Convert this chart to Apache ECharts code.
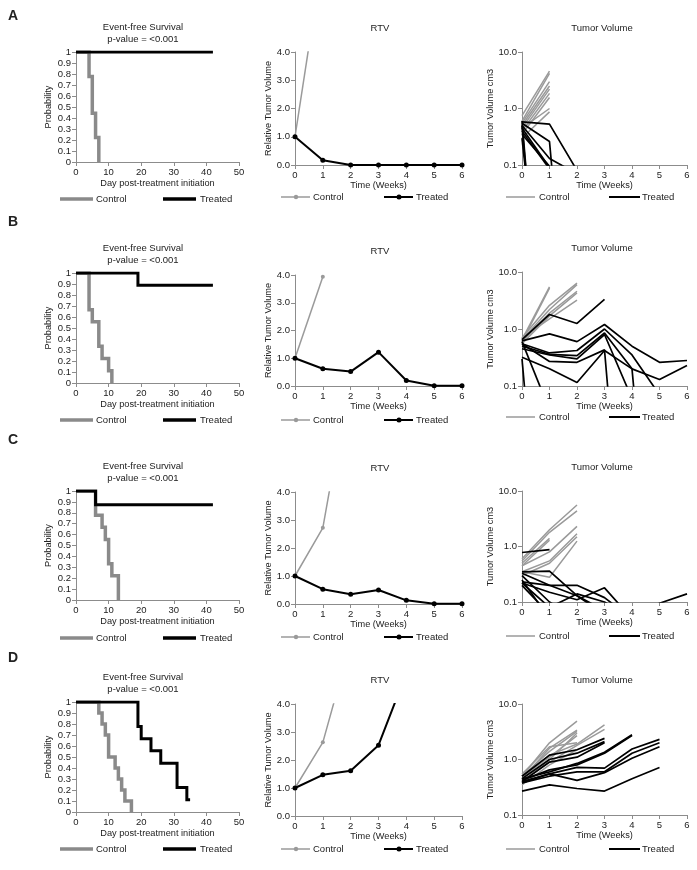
<!DOCTYPE html>
<html><head><meta charset="utf-8">
<script src="https://cdn.jsdelivr.net/npm/echarts@6/dist/echarts.min.js"></script>
<style>html,body{margin:0;padding:0;background:#fff}#c{width:697px;height:870px}</style>
</head><body><div id="c"></div>
<script>
// ---------- DATA ----------
const panelLetters = ['A', 'B', 'C', 'D'];
const kmTitle = 'Event-free Survival';
const kmSubtitle = 'p-value = <0.001';
const rtvTitle = 'RTV';
const tvTitle = 'Tumor Volume';
const seriesNames = ['Control', 'Treated'];

// Kaplan-Meier (event-free survival) step points
const kmCtrlDays = [[0,4,5,6,7],[0,4,5,7,8,10,11],[0,6,8,9,10,11,13],[0,7,8,9,10,12,13,14,15,17]];
const kmCtrlProb = [[1,0.778,0.444,0.222,0],[1,0.667,0.556,0.333,0.222,0.111,0],[1,0.778,0.667,0.556,0.333,0.222,0],[1,0.9,0.8,0.7,0.5,0.4,0.3,0.2,0.1,0]];
const kmTrtDays  = [[0,42],[0,19,42],[0,6,42],[0,19,20,23,26,31,34,35]];
const kmTrtProb  = [[1,1],[1,0.889,0.889],[1,0.875,0.875],[1,0.778,0.667,0.556,0.444,0.222,0.111,0.111]];

// Relative tumor volume (index = week)
const rtvCtrl = [[1.0,7.4],[1.0,3.94],[1.0,2.72,8.3],[1.0,2.63,6.2]];
const rtvTrt  = [[1.0,0.17,0,0,0,0,0],[1.0,0.62,0.52,1.22,0.2,0.01,0.01],[1.0,0.53,0.35,0.5,0.13,0.01,0.01],[1.0,1.47,1.62,2.53,5.1]];

// Individual tumor volumes cm3 (index = week)
const tvCtrlA = [[0.75,4.6],[0.6,4.2],[0.55,3.0],[0.5,2.5],[0.45,2.2],[0.4,1.85],[0.35,1.57],[0.45,1.0],[0.3,0.87]];
const tvTrtA  = [[0.58,0.53,0.08],[0.55,0.26,1e-6],[0.5,0.13,0.07],[0.45,0.09],[0.4,0.085],[0.35,0.095],[0.6,1e-6],[0.5,1e-6],[0.3,1e-5]];
const tvCtrlB = [[0.65,5.5],[0.6,5.2],[0.7,2.6,6.4],[0.65,2.2,6.0],[0.6,1.9,4.6],[0.55,1.7,4.3],[0.7,1.5,3.2]];
const tvTrtB  = [[0.65,1.8,1.25,3.3],[0.62,0.82,0.6,1.2,0.5,0.26,0.28],[0.55,0.38,0.42,1.0,0.35,0.07],[0.5,0.36,0.34,0.85,0.2,1e-6],[0.45,0.35,0.3,0.8,0.06],[0.55,0.27,0.26,0.43,1e-6],[0.32,0.2,0.115,0.42,0.2,0.13,0.23],[0.3,1e-6],[0.6,0.038]];
const tvCtrlC = [[0.6,2.0,5.6],[0.55,1.8,4.4],[0.45,0.8,2.3],[0.35,0.55,1.7],[0.3,0.5,1.5],[0.35,0.28,1.25],[0.5,1.4],[0.45,1.3]];
const tvTrtC  = [[0.78,0.88],[0.35,0.36,0.13,0.06],[0.33,0.2,0.13,0.07],[0.23,0.2,0.2,0.12,0.05],[0.22,0.15,0.11,0.18,0.05],[0.22,0.08,0.14,0.1,0.05],[0.2,0.06],[0.25,0.05,0.05,0.05,0.05,0.095,0.14],[0.3,0.1,0.05]];
const tvCtrlD = [[0.5,2.0,4.9],[0.45,1.6,3.4],[0.5,1.4,3.2],[0.4,1.0,3.0],[0.45,1.2,1.9,4.2],[0.4,0.9,1.8,3.5],[0.35,0.8,1.5],[0.55,1.7,2.0],[0.5,1.1,2.7]];
const tvTrtD  = [[0.5,1.2,1.5,2.4],[0.45,1.0,1.3,2.1],[0.4,0.9,1.1,2.0],[0.45,0.6,0.85,1.35,2.8],[0.42,0.65,0.8,1.3,2.7],[0.4,0.55,0.72,0.7,1.55,2.3],[0.38,0.5,0.6,0.6,1.3,2.0],[0.38,0.55,0.42,0.58,1.05,1.7],[0.27,0.35,0.3,0.27,0.45,0.72]];
const tvCtrl = [tvCtrlA, tvCtrlB, tvCtrlC, tvCtrlD];
const tvTrt  = [tvTrtA, tvTrtB, tvTrtC, tvTrtD];

// ---------- LAYOUT / STYLE ----------
const FONT = '"Liberation Sans", Arial, Helvetica, sans-serif';
const TXT = '#222';
const AX = '#8c8c8c';
const GRAY_KM = '#8a8a8a', GRAY = '#9a9a9a', BLACK = '#000';
const kmTop = [52,273,491,702], kmH = [110,110,109,110];
const rtvTop = [52,275,492,704], rtvH = [113,111,112,112];
const tvTop = [52,272,491,704], tvH = [113,114,111,111];
const letterY = [16,222,440,658];

const grids = [], xAxes = [], yAxes = [], series = [], graphics = [];

function axisX(gi, min, max, interval, name, gap) {
  return {type:'value', gridIndex:gi, min, max, interval, name, nameLocation:'middle', nameGap:gap,
    nameTextStyle:{fontSize:9.2, color:TXT, fontFamily:FONT},
    axisLine:{show:true, onZero:false, lineStyle:{color:AX, width:1}},
    axisTick:{show:true, length:4, lineStyle:{color:AX}},
    axisLabel:{fontSize:9.5, color:TXT, fontFamily:FONT, margin:5},
    splitLine:{show:false}};
}
function axisY(gi, type, min, max, interval, name, gap, fmt) {
  const a = {type, gridIndex:gi, min, max, name, nameLocation:'middle', nameGap:gap,
    nameTextStyle:{fontSize:9.2, color:TXT, fontFamily:FONT},
    axisLine:{show:true, onZero:false, lineStyle:{color:AX, width:1}},
    axisTick:{show:true, length:4, lineStyle:{color:AX}},
    axisLabel:{fontSize:9.5, color:TXT, fontFamily:FONT, margin:5, formatter:fmt},
    splitLine:{show:false}};
  if (type === 'log') a.logBase = 10; else a.interval = interval;
  return a;
}
function pairs(xs, ys) { return xs.map((x, i) => [x, ys[i]]); }
function byWeek(vals) { return vals.map((v, i) => [i, v]); }
function txt(x, y, text, opts) {
  opts = opts || {};
  const align = opts.align || 'center';
  return {type:'text', x, y, silent:true, z:100, style:{text, fill:TXT,
    font:(opts.weight || 'normal') + ' ' + (opts.size || 9.5) + 'px ' + FONT,
    align, textAlign:align, verticalAlign:'middle', textVerticalAlign:'middle'}};
}
function seg(x1, x2, y, color, w) {
  return {type:'line', silent:true, z:100, shape:{x1, y1:y, x2, y2:y}, style:{stroke:color, lineWidth:w}};
}
function dot(x, y, color, r) {
  return {type:'circle', silent:true, z:101, shape:{cx:x, cy:y, r}, style:{fill:color}};
}

for (let r = 0; r < 4; r++) {
  graphics.push(txt(8, letterY[r], panelLetters[r], {align:'left', weight:'bold', size:14}));

  // --- KM panel ---
  let gi = grids.length;
  grids.push({left:76, top:kmTop[r], width:163, height:kmH[r], outerBoundsMode:'none'});
  xAxes.push(axisX(gi, 0, 50, 10, 'Day post-treatment initiation', 17));
  yAxes.push(axisY(gi, 'value', 0, 1, 0.1, 'Probability', 23, v => String(+(+v).toFixed(1))));
  series.push({type:'line', name:seriesNames[0], xAxisIndex:gi, yAxisIndex:gi, step:'end', showSymbol:false,
    data:pairs(kmCtrlDays[r], kmCtrlProb[r]), lineStyle:{color:GRAY_KM, width:3.5, join:'miter'}, z:2});
  series.push({type:'line', name:seriesNames[1], xAxisIndex:gi, yAxisIndex:gi, step:'end', showSymbol:false,
    data:pairs(kmTrtDays[r], kmTrtProb[r]), lineStyle:{color:BLACK, width:3, join:'miter'}, z:3});
  graphics.push(txt(143, kmTop[r] - 25, kmTitle));
  graphics.push(txt(143, kmTop[r] - 13, kmSubtitle));
  const ky = kmTop[r] + 147;
  graphics.push(seg(60, 93, ky, GRAY_KM, 3.5), txt(96, ky, seriesNames[0], {align:'left'}));
  graphics.push(seg(163, 196, ky, BLACK, 3.5), txt(200, ky, seriesNames[1], {align:'left'}));

  // --- RTV panel ---
  gi = grids.length;
  grids.push({left:295, top:rtvTop[r], width:167, height:rtvH[r], outerBoundsMode:'none'});
  xAxes.push(axisX(gi, 0, 6, 1, 'Time (Weeks)', 15));
  yAxes.push(axisY(gi, 'value', 0, 4, 1, 'Relative Tumor Volume', 21, v => (+v).toFixed(1)));
  series.push({type:'line', name:seriesNames[0], xAxisIndex:gi, yAxisIndex:gi, data:byWeek(rtvCtrl[r]),
    symbol:'circle', symbolSize:4, itemStyle:{color:GRAY}, lineStyle:{color:GRAY, width:1.5}, clip:true, z:2});
  series.push({type:'line', name:seriesNames[1], xAxisIndex:gi, yAxisIndex:gi, data:byWeek(rtvTrt[r]),
    symbol:'circle', symbolSize:5, itemStyle:{color:BLACK}, lineStyle:{color:BLACK, width:2}, clip:true, z:3});
  graphics.push(txt(380, rtvTop[r] - 24, rtvTitle));
  const ry = rtvTop[r] + 145;
  graphics.push(seg(281, 310, ry, GRAY, 1.5), dot(296, ry, GRAY, 2.2), txt(313, ry, seriesNames[0], {align:'left'}));
  graphics.push(seg(384, 413, ry, BLACK, 2), dot(399, ry, BLACK, 2.5), txt(416, ry, seriesNames[1], {align:'left'}));

  // --- Tumor volume panel ---
  gi = grids.length;
  grids.push({left:522, top:tvTop[r], width:165, height:tvH[r], outerBoundsMode:'none'});
  xAxes.push(axisX(gi, 0, 6, 1, 'Time (Weeks)', 15));
  yAxes.push(axisY(gi, 'log', 0.1, 10, null, 'Tumor Volume cm3', 20, v => (+v).toFixed(1)));
  tvCtrl[r].forEach(m => series.push({type:'line', name:seriesNames[0], xAxisIndex:gi, yAxisIndex:gi,
    data:byWeek(m), showSymbol:false, lineStyle:{color:GRAY, width:1.5}, clip:true, z:2}));
  tvTrt[r].forEach(m => series.push({type:'line', name:seriesNames[1], xAxisIndex:gi, yAxisIndex:gi,
    data:byWeek(m), showSymbol:false, lineStyle:{color:BLACK, width:1.7}, clip:true, z:3}));
  graphics.push(txt(602, tvTop[r] - 24, tvTitle));
  const ty = tvTop[r] + 145;
  graphics.push(seg(506, 535, ty, GRAY, 1.5), txt(539, ty, seriesNames[0], {align:'left'}));
  graphics.push(seg(609, 640, ty, BLACK, 2), txt(642, ty, seriesNames[1], {align:'left'}));
}

const chart = echarts.init(document.getElementById('c'), null, {renderer:'canvas'});
chart.setOption({
  animation:false,
  backgroundColor:'#fff',
  textStyle:{fontFamily:FONT},
  grid:grids, xAxis:xAxes, yAxis:yAxes, series, graphic:{elements:graphics}
});
</script>
</body></html>
